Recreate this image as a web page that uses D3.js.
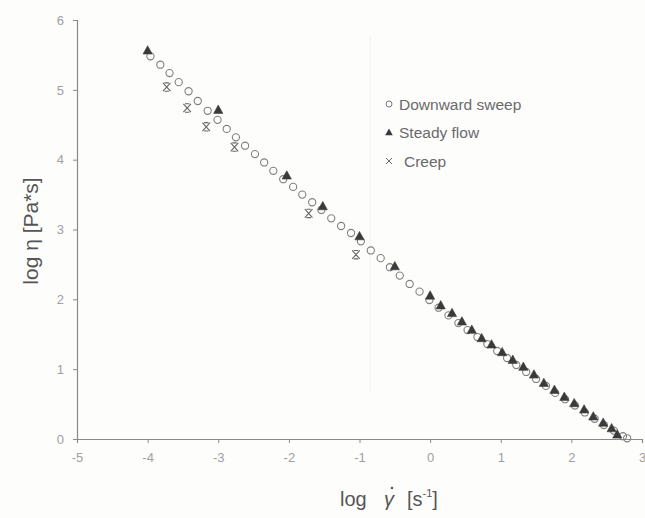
<!DOCTYPE html>
<html>
<head>
<meta charset="utf-8">
<script src="https://cdn.jsdelivr.net/npm/d3@7/dist/d3.min.js"></script>
<style>
  html, body { margin: 0; padding: 0; background: #fdfdfc; }
  svg { display: block; }
  text { font-family: "Liberation Sans", Arial, sans-serif; }
</style>
</head>
<body>
<svg id="chart" width="645" height="518"></svg>
<script>
// Flow curve: log viscosity vs log shear rate, three test methods

// Downward sweep (open circles)
const sweepLogRate = [-3.96, -3.82, -3.69, -3.56, -3.42, -3.29, -3.15, -3.01, -2.88, -2.75,
  -2.62, -2.48, -2.35, -2.22, -2.08, -1.94, -1.81, -1.67, -1.54, -1.40,
  -1.26, -1.12, -0.98, -0.84, -0.70, -0.57, -0.43, -0.29, -0.15, -0.01,
  0.12, 0.26, 0.40, 0.53, 0.67, 0.81, 0.95, 1.09, 1.22, 1.36,
  1.50, 1.64, 1.77, 1.91, 2.05, 2.19, 2.33, 2.46, 2.60, 2.73, 2.79];
const sweepLogVisc = [5.48, 5.36, 5.24, 5.11, 4.98, 4.84, 4.70, 4.57, 4.44, 4.32,
  4.20, 4.08, 3.96, 3.84, 3.72, 3.61, 3.50, 3.39, 3.28, 3.16,
  3.05, 2.95, 2.83, 2.70, 2.59, 2.46, 2.34, 2.22, 2.11, 1.99,
  1.88, 1.77, 1.66, 1.56, 1.46, 1.36, 1.26, 1.16, 1.06, 0.96,
  0.86, 0.76, 0.66, 0.57, 0.48, 0.38, 0.29, 0.20, 0.12, 0.04, 0.01];

// Steady flow (filled triangles)
const steadyLogRate = [-4.00, -3.00, -2.03, -1.52, -1.00, -0.50, 0.00,
  0.15, 0.31, 0.45, 0.59, 0.73, 0.87, 1.02, 1.17, 1.32, 1.47,
  1.61, 1.76, 1.90, 2.04, 2.18, 2.31, 2.45, 2.57, 2.65];
const steadyLogVisc = [5.56, 4.71, 3.77, 3.33, 2.90, 2.47, 2.05,
  1.91, 1.80, 1.68, 1.56, 1.44, 1.35, 1.24, 1.13, 1.03, 0.92,
  0.80, 0.70, 0.60, 0.51, 0.42, 0.32, 0.23, 0.15, 0.06];

// Creep (crosses)
const creepLogRate = [-3.73, -3.44, -3.17, -2.77, -1.72, -1.05];
const creepLogVisc = [5.04, 4.74, 4.47, 4.18, 3.23, 2.64];

// Axis ticks and legend entries
const xTicks = [-5, -4, -3, -2, -1, 0, 1, 2, 3];
const yTicks = [0, 1, 2, 3, 4, 5, 6];
const legendLabels = ["Downward sweep", "Steady flow", "Creep"];

const svg = d3.select("#chart");

const x = d3.scaleLinear().domain([-5, 3]).range([77, 642]);
const y = d3.scaleLinear().domain([0, 6]).range([439, 20]);

const axisColor = "#8a8a8a";
const tickTextColor = "#a0a0a0";

// faint vertical rule in the background
svg.append("line")
  .attr("x1", 370).attr("x2", 370).attr("y1", 36).attr("y2", 392)
  .attr("stroke", "#f3f3f1").attr("stroke-width", 1.2);

// Axes
const gx = svg.append("g")
  .attr("transform", `translate(0,${y(0)})`)
  .call(d3.axisBottom(x).tickValues(xTicks).tickSize(4).tickPadding(10)
        .tickFormat(d => d < 0 ? "-" + Math.abs(d) : String(d)));
const gy = svg.append("g")
  .attr("transform", `translate(${x(-5)},0)`)
  .call(d3.axisLeft(y).tickValues(yTicks).tickSize(4).tickPadding(9)
        .tickFormat(d3.format("d")));

[gx, gy].forEach(g => {
  g.select(".domain").attr("stroke", axisColor).attr("stroke-width", 1.2);
  g.selectAll(".tick line").attr("stroke", axisColor).attr("stroke-width", 1);
  g.selectAll(".tick text")
    .attr("fill", tickTextColor)
    .style("font-family", "'Liberation Sans', Arial, sans-serif")
    .style("font-size", "13px");
});

// Axis titles
svg.append("text")
  .attr("transform", `translate(38,231) rotate(-90)`)
  .attr("text-anchor", "middle")
  .attr("fill", "#555")
  .style("font-size", "21px")
  .text("log η [Pa*s]");

const xt = svg.append("text")
  .attr("x", 340).attr("y", 506)
  .attr("fill", "#555")
  .style("font-size", "20px");
xt.append("tspan").text("log");
xt.append("tspan").attr("x", 384).text("γ").style("font-style", "italic");
xt.append("tspan").attr("x", 407).text("[s");
xt.append("tspan").text("-1").attr("dy", -9).style("font-size", "11px");
xt.append("tspan").text("]").attr("dy", 9);
// dot over gamma (shear rate)
svg.append("circle")
  .attr("cx", 392).attr("cy", 488).attr("r", 1.3).attr("fill", "#555");

// Marker shapes
const triPath = "M0,-5 L4.6,3.3 L-4.6,3.3 Z";
const crossPath = "M-3.8,-4.2 L3.8,4.2 M3.8,-4.2 L-3.8,4.2 M-2.2,-4.2 H2.2 M-2.2,4.2 H2.2";

const sweep = sweepLogRate.map((v, i) => ({ x: v, y: sweepLogVisc[i] }));
const steady = steadyLogRate.map((v, i) => ({ x: v, y: steadyLogVisc[i] }));
const creep = creepLogRate.map((v, i) => ({ x: v, y: creepLogVisc[i] }));

svg.append("g").selectAll("circle").data(sweep).join("circle")
  .attr("cx", d => x(d.x)).attr("cy", d => y(d.y)).attr("r", 3.6)
  .attr("fill", "none").attr("stroke", "#808080").attr("stroke-width", 1.1);

svg.append("g").selectAll("path").data(steady).join("path")
  .attr("transform", d => `translate(${x(d.x)},${y(d.y)})`)
  .attr("d", triPath).attr("fill", "#3a3a3a").attr("stroke", "#3a3a3a").attr("stroke-width", 0.6);

svg.append("g").selectAll("path").data(creep).join("path")
  .attr("transform", d => `translate(${x(d.x)},${y(d.y)})`)
  .attr("d", crossPath).attr("fill", "none").attr("stroke", "#666").attr("stroke-width", 1.1);

// Legend
const legend = svg.append("g").attr("transform", "translate(389,104)");
legendLabels.forEach((label, i) => {
  const row = legend.append("g").attr("transform", `translate(0,${i * 28.5})`);
  if (i === 0) {
    row.append("circle").attr("r", 3).attr("fill", "none")
      .attr("stroke", "#7a7a7a").attr("stroke-width", 1);
  } else if (i === 1) {
    row.append("path").attr("d", "M0,-4 L3.8,2.8 L-3.8,2.8 Z").attr("fill", "#3a3a3a");
  } else {
    row.append("path").attr("d", "M-3,-3 L3,3 M3,-3 L-3,3").attr("stroke", "#6a6a6a")
      .attr("stroke-width", 1).attr("fill", "none");
  }
  row.append("text").attr("x", i === 2 ? 15 : 10).attr("y", 5.5)
    .attr("fill", "#6a6a6a").style("font-size", "15.5px").text(label);
});
</script>
</body>
</html>
